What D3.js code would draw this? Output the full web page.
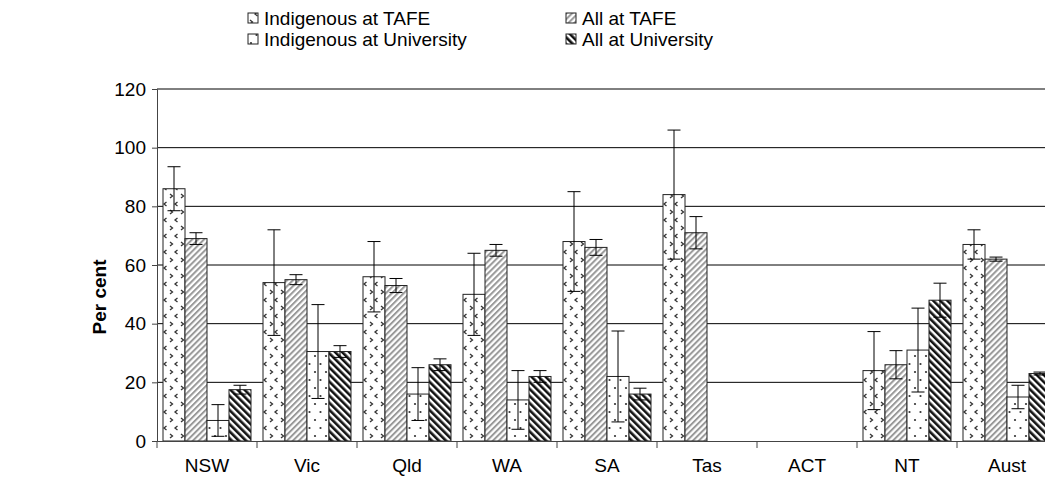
<!DOCTYPE html>
<html>
<head>
<meta charset="utf-8">
<script src="https://cdn.jsdelivr.net/npm/d3@7"></script>
<style>
  body { margin: 0; background: #fff; }
  svg { display: block; font-family: "Liberation Sans", Arial, sans-serif; }
</style>
</head>
<body>
<script>
// categories and series
const states = ["NSW", "Vic", "Qld", "WA", "SA", "Tas", "ACT", "NT", "Aust"];
const seriesNames = ["Indigenous at TAFE", "All at TAFE", "Indigenous at University", "All at University"];

// values (per cent) and 95% error margins
const indigTafe = [86, 54, 56, 50, 68, 84, 0, 24, 67];
const indigTafeErr = [7.5, 18, 12, 14, 17, 22, 0, 13.3, 5];
const allTafe = [69, 55, 53, 65, 66, 71, 0, 26, 62];
const allTafeErr = [2, 1.7, 2.4, 2, 2.7, 5.5, 0, 4.8, 0.7];
const indigUni = [7, 30.5, 16, 14, 22, 0, 0, 31, 15];
const indigUniErr = [5.4, 16, 9, 10, 15.5, 0, 0, 14.3, 4];
const allUni = [17.5, 30.5, 26, 22, 16, 0, 0, 48, 23];
const allUniErr = [1.5, 2, 2, 2, 2, 0, 0, 5.8, 0.5];

const yTicks = [0, 20, 40, 60, 80, 100, 120];

const values = [indigTafe, allTafe, indigUni, allUni];
const errors = [indigTafeErr, allTafeErr, indigUniErr, allUniErr];
const fills = ["url(#pChevron)", "url(#pGrey)", "url(#pDots)", "url(#pBlack)"];

const width = 1045, height = 488;
const svg = d3.select("body").append("svg")
    .attr("width", width)
    .attr("height", height);

// patterns
const defs = svg.append("defs");

const pc = defs.append("pattern").attr("id", "pChevron")
    .attr("patternUnits", "userSpaceOnUse")
    .attr("width", 11).attr("height", 16);
pc.append("rect").attr("width", 11).attr("height", 16).attr("fill", "#fff");
pc.append("path").attr("d", "M2,2 L4.5,4 L2,6").attr("fill", "none").attr("stroke", "#333").attr("stroke-width", 1.3);
pc.append("path").attr("d", "M9.5,10 L7,12 L9.5,14").attr("fill", "none").attr("stroke", "#333").attr("stroke-width", 1.3);

const pg = defs.append("pattern").attr("id", "pGrey")
    .attr("patternUnits", "userSpaceOnUse")
    .attr("width", 4.2).attr("height", 4.2)
    .attr("patternTransform", "rotate(45)");
pg.append("rect").attr("width", 4.2).attr("height", 4.2).attr("fill", "#fff");
pg.append("rect").attr("width", 2).attr("height", 4.2).attr("fill", "#999");

const pd = defs.append("pattern").attr("id", "pDots")
    .attr("patternUnits", "userSpaceOnUse")
    .attr("width", 11).attr("height", 16);
pd.append("rect").attr("width", 11).attr("height", 16).attr("fill", "#fff");
pd.append("circle").attr("cx", 3).attr("cy", 4).attr("r", 1.1).attr("fill", "#333");
pd.append("circle").attr("cx", 8.5).attr("cy", 12).attr("r", 1.1).attr("fill", "#333");

const pb = defs.append("pattern").attr("id", "pBlack")
    .attr("patternUnits", "userSpaceOnUse")
    .attr("width", 5).attr("height", 5)
    .attr("patternTransform", "rotate(-45)");
pb.append("rect").attr("width", 5).attr("height", 5).attr("fill", "#fff");
pb.append("rect").attr("width", 2.6).attr("height", 5).attr("fill", "#111");

// scales
const x0 = d3.scaleBand().domain(states).range([157, 1057]);
const x1 = d3.scaleBand().domain(d3.range(4)).range([6, 94]);
const y = d3.scaleLinear().domain([0, 120]).range([441, 89]);

// gridlines
svg.append("g")
    .selectAll("line")
    .data(yTicks.filter(d => d > 0))
    .enter()
    .append("line")
    .attr("x1", 157).attr("x2", width)
    .attr("y1", d => y(d)).attr("y2", d => y(d))
    .attr("stroke", "#000")
    .attr("stroke-width", 1);

// bars
const groups = svg.append("g")
    .selectAll("g")
    .data(states)
    .enter()
    .append("g")
    .attr("transform", d => `translate(${x0(d)},0)`);

groups.selectAll("rect")
    .data((d, i) => values.map((v, s) => ({ s, v: v[i], e: errors[s][i] })))
    .enter()
    .append("rect")
    .attr("x", d => x1(d.s))
    .attr("y", d => y(d.v))
    .attr("width", x1.bandwidth())
    .attr("height", d => y(0) - y(d.v))
    .attr("fill", d => fills[d.s])
    .attr("stroke", "#222")
    .attr("stroke-width", 1);

// error bars
const errG = groups.selectAll(".err")
    .data((d, i) => values.map((v, s) => ({ s, v: v[i], e: errors[s][i] })).filter(d => d.e > 0))
    .enter()
    .append("g")
    .attr("class", "err")
    .attr("stroke", "#000")
    .attr("stroke-width", 1);

const cx = d => x1(d.s) + x1.bandwidth() / 2;
errG.append("line")
    .attr("x1", cx).attr("x2", cx)
    .attr("y1", d => y(d.v + d.e)).attr("y2", d => y(d.v - d.e));
errG.append("line")
    .attr("x1", d => cx(d) - 6.5).attr("x2", d => cx(d) + 6.5)
    .attr("y1", d => y(d.v + d.e)).attr("y2", d => y(d.v + d.e));
errG.append("line")
    .attr("x1", d => cx(d) - 6.5).attr("x2", d => cx(d) + 6.5)
    .attr("y1", d => y(d.v - d.e)).attr("y2", d => y(d.v - d.e));

// y axis
const yAxis = svg.append("g")
    .attr("transform", "translate(157,0)")
    .call(d3.axisLeft(y).tickValues(yTicks).tickSize(5).tickPadding(6));
yAxis.select(".domain").attr("stroke", "#444");
yAxis.selectAll("line").attr("stroke", "#444");
yAxis.selectAll("text").attr("font-size", 19).attr("fill", "#000")
    .attr("font-family", "Liberation Sans, Arial, sans-serif");

// x axis
const xAxis = svg.append("g")
    .attr("transform", "translate(0,441)")
    .call(d3.axisBottom(x0).tickSize(0).tickPadding(18));
xAxis.select(".domain").attr("stroke", "#444");
xAxis.selectAll("text").attr("font-size", 19).attr("fill", "#000")
    .attr("font-family", "Liberation Sans, Arial, sans-serif");
svg.append("g")
    .selectAll("line")
    .data(states)
    .enter()
    .append("line")
    .attr("x1", d => x0(d)).attr("x2", d => x0(d))
    .attr("y1", 441).attr("y2", 448)
    .attr("stroke", "#444");

// y title
svg.append("text")
    .attr("transform", "translate(106,297) rotate(-90)")
    .attr("text-anchor", "middle")
    .attr("font-size", 19)
    .attr("font-weight", "bold")
    .text("Per cent");

// legend
const legendPos = [[248, 18], [566, 18], [248, 39], [566, 39]];
const leg = svg.append("g")
    .selectAll("g")
    .data(seriesNames)
    .enter()
    .append("g")
    .attr("transform", (d, i) => `translate(${legendPos[i][0]},${legendPos[i][1]})`);
leg.append("rect")
    .attr("x", 0).attr("y", -5)
    .attr("width", 10).attr("height", 10)
    .attr("fill", (d, i) => fills[i])
    .attr("stroke", "#222");
leg.append("text")
    .attr("x", 16).attr("y", 0)
    .attr("dy", "0.35em")
    .attr("font-size", 19)
    .text(d => d);
</script>
</body>
</html>
